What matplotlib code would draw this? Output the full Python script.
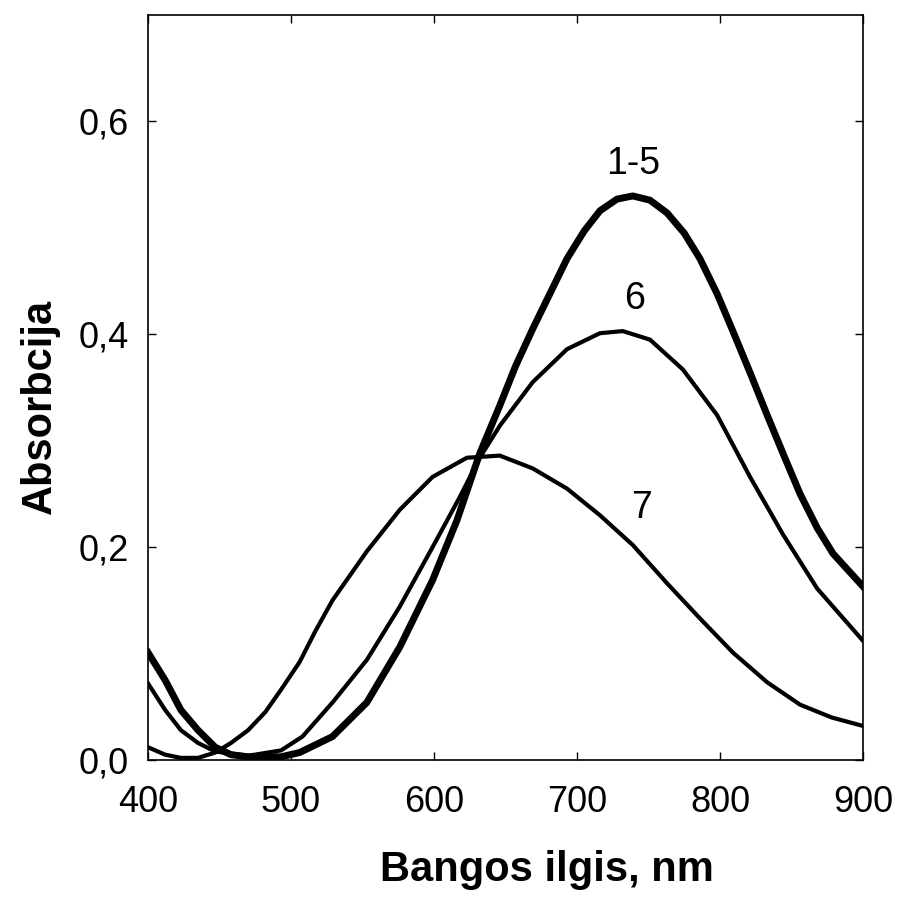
import matplotlib
matplotlib.use('Agg')
import matplotlib.pyplot as plt
from matplotlib.ticker import FuncFormatter

plt.rcParams['font.family'] = ['Liberation Sans', 'DejaVu Sans']

# curve 1-5 (several nearly identical spectra)
wl_15 = [400, 412, 423, 435, 447, 458, 470, 493, 506, 529, 553, 576, 599, 616, 632,
         646, 657, 669, 693, 705, 716, 728, 739, 751, 763, 775, 786, 798, 809, 821,
         833, 845, 856, 868, 879, 900]
abs_15 = [0.101, 0.075, 0.047, 0.028, 0.012, 0.005, 0.003, 0.003, 0.007, 0.022, 0.054,
          0.106, 0.169, 0.225, 0.288, 0.333, 0.370, 0.405, 0.471, 0.497, 0.516, 0.527,
          0.530, 0.526, 0.514, 0.495, 0.471, 0.438, 0.403, 0.364, 0.324, 0.285, 0.250,
          0.218, 0.194, 0.163]

# curve 6
wl_6 = [400, 412, 423, 435, 447, 470, 493, 508, 529, 553, 576, 599, 618, 632, 646,
        669, 693, 716, 732, 751, 774, 798, 821, 844, 868, 900]
abs_6 = [0.072, 0.047, 0.028, 0.016, 0.008, 0.004, 0.009, 0.022, 0.054, 0.094, 0.144,
         0.200, 0.247, 0.284, 0.314, 0.355, 0.386, 0.401, 0.403, 0.395, 0.367, 0.324,
         0.266, 0.212, 0.161, 0.112]

# curve 7
wl_7 = [400, 412, 423, 435, 447, 458, 470, 482, 493, 506, 517, 529, 553, 576, 599,
        623, 646, 669, 693, 716, 739, 763, 786, 809, 833, 856, 878, 900]
abs_7 = [0.012, 0.005, 0.002, 0.002, 0.007, 0.016, 0.028, 0.045, 0.066, 0.092, 0.121,
         0.150, 0.196, 0.235, 0.266, 0.284, 0.286, 0.274, 0.255, 0.230, 0.202, 0.166,
         0.133, 0.101, 0.073, 0.052, 0.040, 0.032]

x_ticks = [400, 500, 600, 700, 800, 900]
y_ticks = [0.0, 0.2, 0.4, 0.6]

fig = plt.figure(figsize=(8.98, 8.97), dpi=100)
ax = fig.add_axes([148/898, 137/897, 715/898, 745/897])

ax.plot(wl_15, abs_15, color='black', lw=5, solid_joinstyle='round')
ax.plot(wl_6, abs_6, color='black', lw=3, solid_joinstyle='round')
ax.plot(wl_7, abs_7, color='black', lw=3, solid_joinstyle='round')

ax.text(739, 0.560, '1-5', fontsize=27, ha='center', va='center')
ax.text(740, 0.433, '6', fontsize=27, ha='center', va='center')
ax.text(745, 0.237, '7', fontsize=27, ha='center', va='center')

ax.set_xlim(400, 900)
ax.set_ylim(0, 0.7)
ax.set_xticks(x_ticks)
ax.set_yticks(y_ticks)
ax.yaxis.set_major_formatter(FuncFormatter(lambda v, p: f'{v:.1f}'.replace('.', ',')))
ax.tick_params(direction='in', length=6, width=1, top=True, right=True, labelsize=26)
ax.tick_params(axis='x', pad=18)
ax.tick_params(axis='y', pad=14)
for s in ax.spines.values():
    s.set_linewidth(1.2)

fig.text(547/898, 1 - 870/897, 'Bangos ilgis, nm', fontsize=30, fontweight='bold',
         ha='center', va='center')
fig.text(40/898, 1 - 406/897, 'Absorbcija', fontsize=30, fontweight='bold',
         ha='center', va='center', rotation=90)

plt.savefig('out.png', dpi=100)
